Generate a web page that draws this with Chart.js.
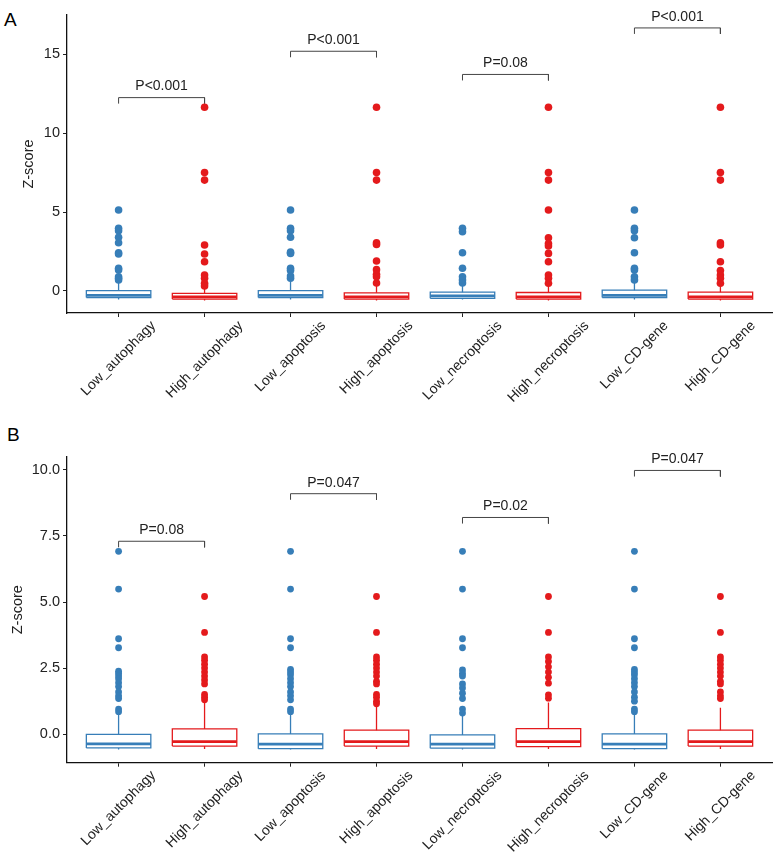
<!DOCTYPE html>
<html>
<head>
<meta charset="utf-8">
<script src="https://cdn.jsdelivr.net/npm/chart.js@4.4.0/dist/chart.umd.min.js"></script>
<style>
  body { margin: 0; background: #fff; width: 777px; height: 858px; position: relative; overflow: hidden;
         font-family: "Liberation Sans", Arial, sans-serif; }
  canvas { position: absolute; left: 0; }
  .tag { position: absolute; font-size: 19px; color: #000; line-height: 22px; }
</style>
</head>
<body>
<div class="tag" style="left:4px;top:9px">A</div>
<canvas id="chartA" width="777" height="420" style="top:0"></canvas>
<div class="tag" style="left:7px;top:424px">B</div>
<canvas id="chartB" width="777" height="428" style="top:430px"></canvas>
<script>
// ---------- Data ----------
const groups = ["Low_autophagy", "High_autophagy", "Low_apoptosis", "High_apoptosis",
                "Low_necroptosis", "High_necroptosis", "Low_CD-gene", "High_CD-gene"];

// Panel A: box stats (lower whisker, Q1, median, Q3, upper whisker) and outliers
const aLo  = [-0.55, -0.6, -0.55, -0.6, -0.55, -0.6, -0.55, -0.6];
const aQ1  = [-0.42, -0.52, -0.42, -0.52, -0.47, -0.52, -0.42, -0.52];
const aMed = [-0.28, -0.38, -0.28, -0.38, -0.32, -0.38, -0.28, -0.38];
const aQ3  = [0.02, -0.15, 0.02, -0.12, -0.08, -0.1, 0.05, -0.08];
const aHi  = [0.6, 0.3, 0.6, 0.4, 0.45, 0.4, 0.6, 0.4];
const aOut = [
  [5.13, 3.97, 3.82, 3.4, 3.06, 2.42, 2.34, 1.44, 1.33, 0.9, 0.8, 0.7],
  [11.65, 7.51, 7.03, 2.91, 2.34, 1.85, 1.01, 0.8, 0.49, 0.32],
  [5.13, 3.97, 3.82, 3.4, 2.46, 2.38, 1.44, 1.3, 0.95, 0.8],
  [11.65, 7.51, 7.03, 3.05, 2.95, 1.9, 1.35, 1.05, 0.9, 0.5],
  [3.97, 3.75, 2.42, 1.44, 0.9, 0.7, 0.5],
  [11.65, 7.51, 7.03, 5.13, 3.37, 3.0, 2.85, 2.38, 1.85, 1.01, 0.8, 0.49],
  [5.13, 3.97, 3.82, 3.37, 2.42, 1.44, 1.33, 0.9, 0.7],
  [11.65, 7.51, 7.03, 3.06, 2.91, 1.85, 1.3, 1.01, 0.8, 0.49]
];
const aTicks = [0, 5, 10, 15];
const aPLabels = ["P<0.001", "P<0.001", "P=0.08", "P<0.001"];
const aBrackY = [12.26, 15.2, 13.73, 16.68];

// Panel B
const bLo  = [-0.58, -0.56, -0.58, -0.56, -0.58, -0.56, -0.58, -0.56];
const bQ1  = [-0.52, -0.45, -0.55, -0.45, -0.53, -0.47, -0.55, -0.45];
const bMed = [-0.37, -0.28, -0.38, -0.28, -0.38, -0.28, -0.38, -0.28];
const bQ3  = [-0.01, 0.2, 0.01, 0.15, -0.03, 0.21, 0.01, 0.15];
const bHi  = [0.8, 1.2, 0.8, 1.05, 0.75, 1.2, 0.8, 1.0];
const bOut = [
  [6.92, 5.49, 3.61, 3.27, 2.38, 2.3, 2.2, 2.1, 1.95, 1.8, 1.6, 1.45, 1.35, 0.95, 0.85],
  [5.21, 3.85, 2.92, 2.8, 2.65, 2.5, 2.35, 2.2, 2.05, 1.9, 1.5, 1.4, 1.3],
  [6.92, 5.49, 3.61, 3.27, 2.45, 2.35, 2.25, 2.1, 1.95, 1.8, 1.6, 1.45, 1.3, 0.95, 0.85],
  [5.21, 3.85, 2.92, 2.8, 2.65, 2.5, 2.35, 2.2, 2.0, 1.9, 1.5, 1.4, 1.25, 1.15],
  [6.92, 5.49, 3.61, 3.27, 2.43, 2.3, 2.2, 1.9, 1.75, 1.55, 1.35, 0.95, 0.8],
  [5.21, 3.85, 2.92, 2.75, 2.55, 2.35, 2.15, 1.93, 1.49, 1.36],
  [6.92, 5.49, 3.61, 3.27, 2.45, 2.35, 2.25, 2.1, 1.95, 1.8, 1.6, 1.4, 1.25, 0.95, 0.85],
  [5.21, 3.85, 2.92, 2.8, 2.65, 2.5, 2.35, 2.2, 2.0, 1.9, 1.6, 1.45, 1.35]
];
const bTicks = [0, 2.5, 5, 7.5, 10];
const bPLabels = ["P=0.08", "P=0.047", "P=0.02", "P=0.047"];
const bBrackY = [7.3, 9.1, 8.2, 9.98];

// ---------- Helpers ----------
const BLUE = "#377EB8", RED = "#E41A1C";
const FONT = '"Liberation Sans", Arial, sans-serif';
const HW = 0.375; // half box width in category units

function lineSet(data, color, width) {
  return { type: "scatter", data, showLine: true, spanGaps: false, borderColor: color,
           borderWidth: width, pointRadius: 0, fill: false };
}

function makePanel(id, p) {
  const datasets = [];
  [BLUE, RED].forEach((col, c) => {
    const boxes = [], meds = [], whisk = [], pts = [];
    groups.forEach((g, i) => {
      if (i % 2 !== c) return;
      const x = i + 1;
      boxes.push({ x: x - HW, y: p.q1[i] }, { x: x + HW, y: p.q1[i] }, { x: x + HW, y: p.q3[i] },
                 { x: x - HW, y: p.q3[i] }, { x: x - HW, y: p.q1[i] }, { x, y: null });
      meds.push({ x: x - HW, y: p.med[i] }, { x: x + HW, y: p.med[i] }, { x, y: null });
      whisk.push({ x, y: p.q3[i] }, { x, y: p.hi[i] }, { x, y: null },
                 { x, y: p.lo[i] }, { x, y: p.q1[i] }, { x, y: null });
      p.out[i].forEach((v) => pts.push({ x, y: v }));
    });
    datasets.push(lineSet(whisk, col, 1.3), lineSet(boxes, col, 1.3), lineSet(meds, col, 2.7));
    datasets.push({ type: "scatter", data: pts, backgroundColor: col, borderWidth: 0,
                    pointRadius: p.dot, pointHoverRadius: p.dot });
  });

  // significance brackets
  const br = [];
  p.brackY.forEach((y, k) => {
    const x1 = 2 * k + 1, x2 = 2 * k + 2;
    br.push({ x: x1, y: y - p.tip }, { x: x1, y }, { x: x2, y }, { x: x2, y: y - p.tip }, { x: x1, y: null });
  });
  datasets.push(lineSet(br, "#444", 1));

  const textPlugin = {
    id: "texts" + id,
    afterDraw(chart) {
      const ctx = chart.ctx, xs = chart.scales.x, ys = chart.scales.y;
      ctx.save();
      ctx.fillStyle = "#222";
      ctx.textAlign = "center";
      ctx.textBaseline = "middle";
      // p-values
      ctx.font = "14px " + FONT;
      p.labels.forEach((t, k) => {
        ctx.fillText(t, xs.getPixelForValue(2 * k + 1.5), ys.getPixelForValue(p.brackY[k]) - 11);
      });
      // rotated category labels, centred under each tick
      ctx.font = "14px " + FONT;
      groups.forEach((g, i) => {
        const w = ctx.measureText(g).width, h = 13;
        const cx = xs.getPixelForValue(i + 1);
        const cy = xs.top + 6 + (w + h) / Math.SQRT2 / 2;
        ctx.save();
        ctx.translate(cx, cy);
        ctx.rotate(-Math.PI / 4);
        ctx.fillText(g, 0, 0);
        ctx.restore();
      });
      ctx.restore();
    }
  };

  const axisGrid = { display: true, drawOnChartArea: false, drawTicks: true, tickLength: 4,
                     color: "#222", lineWidth: 1 };
  const axisBorder = { display: true, color: "#111", width: 1.3 };

  new Chart(document.getElementById(id), {
    type: "scatter",
    data: { datasets },
    options: {
      responsive: false,
      animation: false,
      layout: { padding: { top: p.top, right: 5, left: 0, bottom: 0 } },
      plugins: { legend: { display: false }, tooltip: { enabled: false } },
      scales: {
        x: {
          type: "linear", min: 0.4, max: 8.6,
          afterBuildTicks: (s) => { s.ticks = groups.map((g, i) => ({ value: i + 1 })); },
          afterFit: (s) => { s.height = p.xHeight; },
          ticks: { display: false },
          grid: axisGrid, border: axisBorder
        },
        y: {
          type: "linear", min: p.yMin, max: p.yMax,
          afterBuildTicks: (s) => { s.ticks = p.ticks.map((v) => ({ value: v })); },
          afterFit: (s) => { s.width = 67; },
          ticks: { callback: p.fmt, font: { size: 14.5, family: FONT }, color: "#222", padding: 3 },
          grid: axisGrid, border: axisBorder,
          title: { display: true, text: "Z-score", font: { size: 14.5, family: FONT }, color: "#222",
                   padding: { top: p.titlePad, bottom: 0 } }
        }
      }
    },
    plugins: [textPlugin]
  });
}

// ---------- Panels ----------
makePanel("chartA", {
  lo: aLo, q1: aQ1, med: aMed, q3: aQ3, hi: aHi, out: aOut,
  ticks: aTicks, labels: aPLabels, brackY: aBrackY, tip: 0.38,
  yMin: -1.4, yMax: 17.5, fmt: (v) => String(v), dot: 3.8,
  top: 15, xHeight: 107, titlePad: 20
});

makePanel("chartB", {
  lo: bLo, q1: bQ1, med: bMed, q3: bQ3, hi: bHi, out: bOut,
  ticks: bTicks, labels: bPLabels, brackY: bBrackY, tip: 0.23,
  yMin: -1.08, yMax: 10.5, fmt: (v) => v.toFixed(1), dot: 3.4,
  top: 26.7, xHeight: 95.3, titlePad: 9.5
});
</script>
</body>
</html>
